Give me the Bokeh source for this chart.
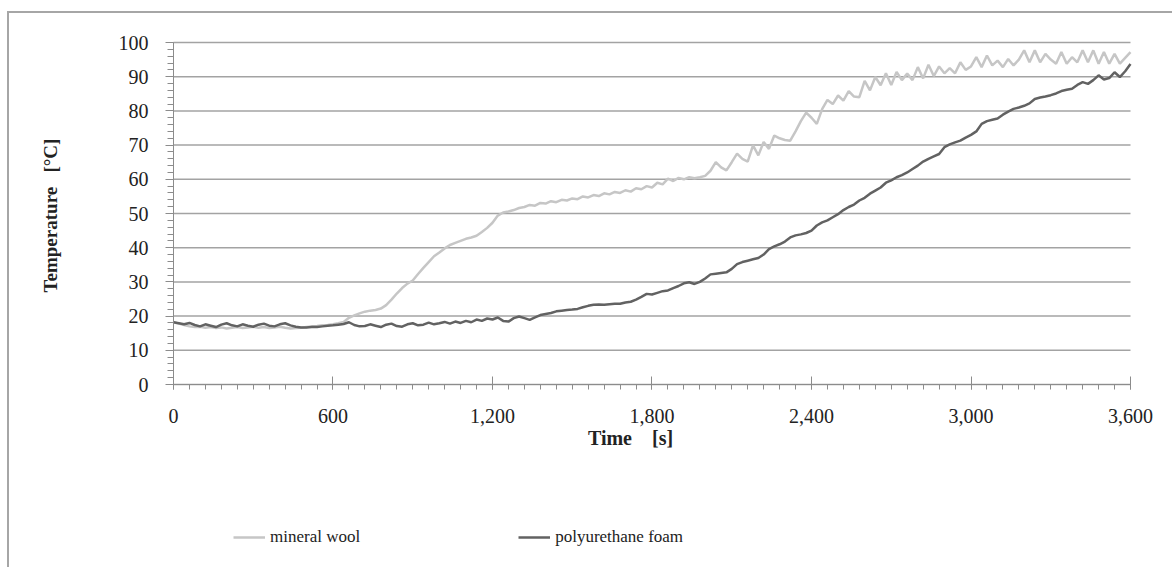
import math
from bokeh.plotting import figure
from bokeh.models import Range1d, FixedTicker, Legend, LegendItem, Label
from bokeh.embed import file_html
from bokeh.resources import INLINE

# sample times [s]
time_s = list(range(0, 3601, 20))

mineral_wool = [
    18.2, 17.8, 17.4, 17.0, 16.8, 16.9, 16.6, 16.8, 16.5, 16.7,
    16.4, 16.6, 16.8, 16.5, 16.7, 16.9, 16.6, 16.8, 16.5, 16.7,
    16.9, 16.6, 16.4, 16.5, 16.6, 16.8, 17.0, 17.1, 17.3, 17.4,
    17.6, 17.9, 18.3, 19.5, 20.2, 20.8, 21.3, 21.6, 21.8, 22.2,
    23.2, 24.8, 26.6, 28.2, 29.5, 30.4, 32.3, 34.1, 35.8, 37.5,
    38.6, 39.8, 40.8, 41.4, 42.0, 42.6, 43.0, 43.5, 44.6, 45.8,
    47.3, 49.4, 50.3, 50.6, 51.0, 51.6, 51.9, 52.5, 52.3, 53.1,
    52.9, 53.6, 53.3, 54.0, 53.8, 54.4, 54.2, 55.0, 54.7, 55.4,
    55.1, 55.9, 55.6, 56.3, 56.0, 56.8, 56.4, 57.4, 57.1, 58.0,
    57.6, 59.0, 58.5, 60.2, 59.5, 60.4, 60.0, 60.6, 60.3, 60.6,
    61.0, 62.5, 65.0, 63.5, 62.6, 65.0, 67.5, 66.0, 65.2, 69.9,
    67.0, 70.9, 68.9, 72.8, 72.0, 71.5, 71.3, 74.0, 77.0, 79.5,
    78.0, 76.2, 80.5, 83.2, 82.0, 84.5, 83.0, 85.8, 84.2, 84.0,
    88.8, 86.0, 89.9, 87.5, 91.0, 87.6, 91.4, 89.0, 90.9, 89.0,
    92.8, 89.5, 93.5, 90.2, 93.0, 91.0, 92.5, 91.0, 94.2, 92.0,
    93.0, 95.7, 92.8, 96.2, 93.3, 94.7, 92.8, 95.2, 93.3, 95.0,
    97.7, 94.2, 97.7, 94.2, 96.7, 95.0, 93.8, 97.2, 93.8, 95.7,
    94.2, 97.7, 94.2, 97.7, 93.8, 97.2, 93.8, 96.7, 93.8, 95.5,
    97.2,
]

polyurethane_foam = [
    18.2, 17.9, 17.6, 18.0, 17.4, 17.0, 17.6, 17.2, 16.8, 17.5,
    17.9, 17.3, 17.0, 17.6, 17.2, 16.9, 17.5, 17.8, 17.2, 17.0,
    17.6, 17.9, 17.3, 16.9, 16.7, 16.7, 16.8, 16.8, 17.0, 17.2,
    17.3, 17.5, 17.7, 18.2, 17.4, 17.0, 17.1, 17.6, 17.2, 16.8,
    17.5, 17.8, 17.1, 16.9, 17.6, 17.9, 17.3, 17.5, 18.1, 17.6,
    17.9, 18.3, 17.8, 18.4, 18.0, 18.6, 18.2, 19.0, 18.6, 19.3,
    19.0, 19.6, 18.6, 18.4, 19.4, 19.9, 19.4, 18.9, 19.6, 20.3,
    20.6, 20.9, 21.4, 21.6, 21.8, 21.9, 22.1, 22.6, 23.0, 23.3,
    23.4, 23.3, 23.5, 23.6, 23.6, 24.0, 24.2, 24.8, 25.6, 26.5,
    26.3, 26.8, 27.3, 27.5, 28.2, 28.8, 29.6, 29.9, 29.4, 30.0,
    31.0, 32.2, 32.4, 32.6, 32.8, 33.8, 35.2, 35.8, 36.2, 36.6,
    37.0, 38.0, 39.6, 40.4, 41.0, 41.8, 43.0, 43.6, 43.9, 44.3,
    45.0, 46.5, 47.4, 48.0, 48.9, 49.8, 51.0, 51.9, 52.6, 53.8,
    54.6, 55.8, 56.7, 57.6, 59.0, 59.7, 60.6, 61.2, 62.0, 63.0,
    64.0, 65.2, 66.0, 66.7, 67.4, 69.4, 70.2, 70.8, 71.3, 72.2,
    73.0, 74.0, 76.2, 77.0, 77.4, 77.8, 78.9, 79.8, 80.6, 81.0,
    81.5, 82.2, 83.5, 83.9, 84.2, 84.6, 85.1, 85.8, 86.2, 86.5,
    87.6, 88.4, 87.9, 89.0, 90.4, 89.2, 89.6, 91.3, 89.9, 91.6,
    93.7,
]

series_names = ["mineral wool", "polyurethane foam"]
series_colors = ["#c6c6c6", "#626262"]

x_ticks = [0, 600, 1200, 1800, 2400, 3000, 3600]
x_tick_labels = ["0", "600", "1,200", "1,800", "2,400", "3,000", "3,600"]
x_minor_ticks = list(range(0, 3601, 60))
y_ticks = [0, 10, 20, 30, 40, 50, 60, 70, 80, 90, 100]
y_minor_ticks = list(range(0, 101, 2))
x_title = "Time\u00a0\u00a0\u00a0\u00a0[s]"
y_title = "Temperature\u00a0\u00a0\u00a0[°C]"

FONT = "Liberation Serif"
TXT = "#222222"
AX = "#8c8c8c"
GRID = "#a3a3a3"

# The plotting frame covers the whole figure; both axes are pinned at 0 so that
# labels and the legend outside the data area are not clipped.
p = figure(width=1165, height=556, output_backend="svg", toolbar_location=None,
           x_range=Range1d(-616.9, 3765.5), y_range=Range1d(-54.09, 108.48),
           min_border=0, min_border_left=0, min_border_right=0,
           min_border_top=0, min_border_bottom=0)
p.margin = (11, 0, 0, 7)
p.styles = {"border-left": "2px solid #a6a6a6", "border-top": "2px solid #a6a6a6"}
p.background_fill_color = "white"
p.border_fill_color = "white"
p.outline_line_color = None
p.xgrid.visible = False
p.ygrid.visible = False

# horizontal gridlines spanning only the data extent
n = len(y_ticks)
p.segment(x0=[x_ticks[0]] * n, x1=[x_ticks[-1]] * n, y0=y_ticks, y1=y_ticks,
          line_color=GRID, line_width=1.5)

xa = p.xaxis[0]
xa.fixed_location = 0
xa.bounds = (0, 3600)
xa.ticker = FixedTicker(ticks=x_ticks, minor_ticks=x_minor_ticks)
xa.major_label_overrides = {t: l for t, l in zip(x_ticks, x_tick_labels)}
xa.major_label_text_font = FONT
xa.major_label_text_font_size = "20px"
xa.major_label_text_color = TXT
xa.major_label_standoff = 19
xa.axis_line_color = AX
xa.major_tick_line_color = AX
xa.minor_tick_line_color = AX
xa.major_tick_in = 8
xa.major_tick_out = 5
xa.minor_tick_in = 0
xa.minor_tick_out = 5

ya = p.yaxis[0]
ya.fixed_location = 0
ya.bounds = (0, 100)
ya.ticker = FixedTicker(ticks=y_ticks, minor_ticks=y_minor_ticks)
ya.major_label_text_font = FONT
ya.major_label_text_font_size = "20px"
ya.major_label_text_color = TXT
ya.major_label_standoff = 17
ya.axis_line_color = AX
ya.major_tick_line_color = AX
ya.minor_tick_line_color = AX
ya.major_tick_in = 0
ya.major_tick_out = 8
ya.minor_tick_in = 0
ya.minor_tick_out = 6

p.add_layout(Label(x=621, y=132, x_units="screen", y_units="screen", text=x_title,
                   text_font=FONT, text_font_style="bold", text_font_size="20px",
                   text_color=TXT, text_align="center", text_baseline="middle"))
p.add_layout(Label(x=41, y=354, x_units="screen", y_units="screen", text=y_title,
                   angle=math.pi / 2, text_font=FONT, text_font_style="bold",
                   text_font_size="19px", text_color=TXT, text_align="center",
                   text_baseline="middle"))

r_wool = p.line(time_s, mineral_wool, line_color=series_colors[0], line_width=2.5)
r_pu = p.line(time_s, polyurethane_foam, line_color=series_colors[1], line_width=2.5)

lg = Legend(items=[LegendItem(label=series_names[0], renderers=[r_wool]),
                   LegendItem(label=series_names[1], renderers=[r_pu])],
            location=(224, 22), orientation="horizontal",
            padding=0, margin=0, spacing=158,
            glyph_width=32, glyph_height=20, label_height=20,
            label_standoff=5, label_text_font=FONT,
            label_text_font_size="17px", label_text_color=TXT,
            background_fill_alpha=0, border_line_color=None)
p.add_layout(lg, "center")

open("out.html", "w").write(file_html(p, INLINE))
